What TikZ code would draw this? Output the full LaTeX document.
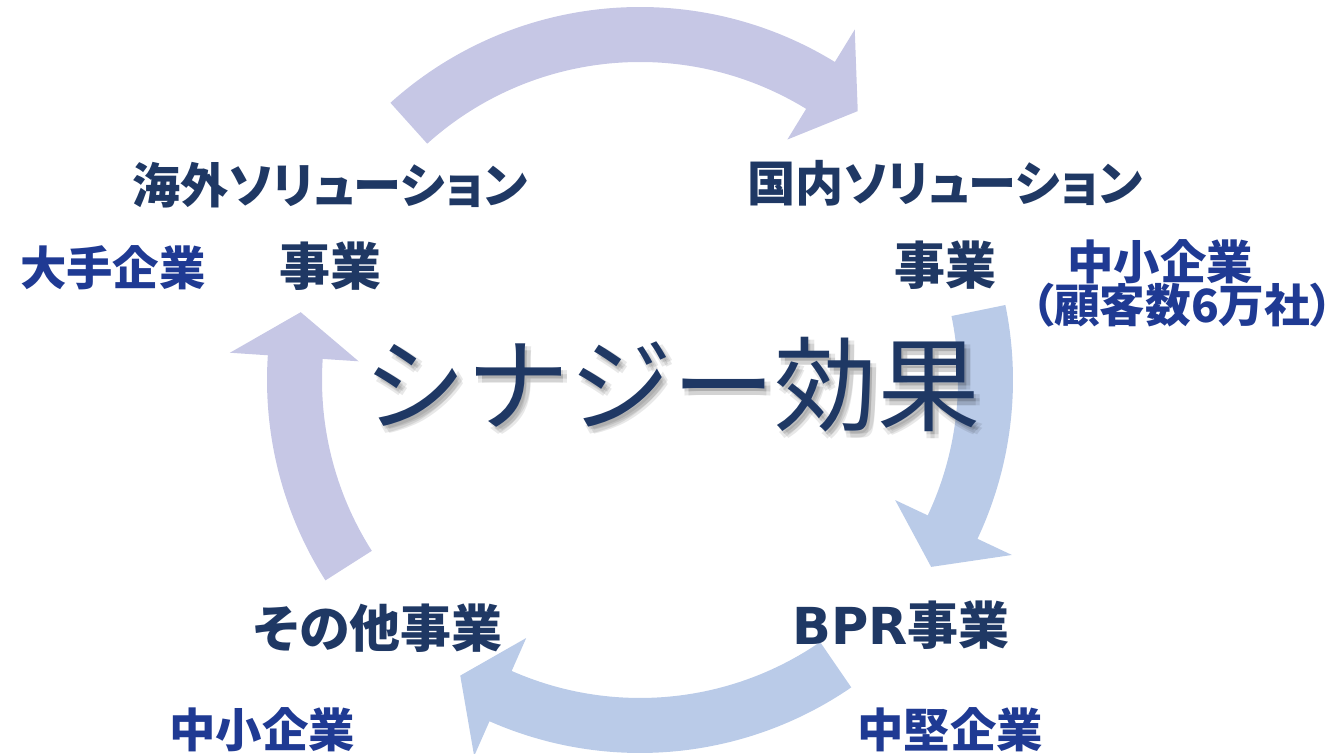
\documentclass[tikz,border=0pt]{standalone}
\usepackage{fontspec}
\newfontfamily\jpfont{Noto Sans CJK JP}
\newfontfamily\jppalt{Noto Sans CJK JP}[RawFeature=+palt]
\newfontfamily\latinwide{DejaVu Sans}
\definecolor{titlenavy}{HTML}{1F3864}
\definecolor{clientblue}{HTML}{1F3A93}
\definecolor{arrowlav}{HTML}{C6C7E5}
\definecolor{arrowsky}{HTML}{BACBE8}
\tikzset{
  bizlabel/.style={text=titlenavy, inner sep=0pt, font=\jppalt\bfseries\fontsize{14.5}{17}\selectfont},
  biztitle/.style={bizlabel, font=\jppalt\bfseries\fontsize{13.7}{16}\selectfont},
  clientlabel/.style={text=clientblue, inner sep=0pt, font=\jpfont\bfseries\fontsize{13.2}{16}\selectfont},
  synergytext/.style={inner sep=0pt, font=\jpfont\fontsize{29.3}{34}\selectfont},
}

\begin{document}
\begin{tikzpicture}
	\useasboundingbox (0,0) rectangle (13.42,7.54);
	% Центр круга стрелок
	\coordinate (C) at (6.40,3.74);
	
	% Изогнутые стрелки по кругу
	\begin{scope}[shift={(C)}]
		\fill[arrowlav] (132:3.73) arc[start angle=132, end angle=58.5, radius=3.73] -- (58.5:4.11) -- (51:3.46) -- (58.5:2.82) -- (58.5:3.18) arc[start angle=58.5, end angle=132, radius=3.18] -- cycle;
		\fill[arrowsky] (11.6:3.73) arc[start angle=11.6, end angle=-25.2, radius=3.73] -- (-25.2:4.11) -- (-32.7:3.46) -- (-25.2:2.82) -- (-25.2:3.18) arc[start angle=-25.2, end angle=11.6, radius=3.18] -- cycle;
		\fill[arrowsky] (-55.5:3.73) arc[start angle=-55.5, end angle=-113.8, radius=3.73] -- (-113.8:4.11) -- (-121.3:3.46) -- (-113.8:2.82) -- (-113.8:3.18) arc[start angle=-113.8, end angle=-55.5, radius=3.18] -- cycle;
		\fill[arrowlav] (212.5:3.73) arc[start angle=212.5, end angle=176.2, radius=3.73] -- (176.2:4.11) -- (168.7:3.46) -- (176.2:2.82) -- (176.2:3.18) arc[start angle=176.2, end angle=212.5, radius=3.18] -- cycle;
	\end{scope}
	
	% Тень и надпись в центре
	\foreach \dx in {0.02,0.06}
		\foreach \dy in {-0.03,-0.07}
			\node[synergytext, text=black, text opacity=0.09] at ([xshift=\dx cm, yshift=\dy cm]6.72,3.69) {シナジー効果};
	\node[synergytext, text=titlenavy] (synergy) at (6.72,3.69) {シナジー効果};
	
	% Подписи направлений
	\node[biztitle] (oversea) at (3.30,5.69) {海外ソリューション};
	\node[bizlabel] (overseabiz) at (3.30,4.88) {事業};
	\node[biztitle] (domestic) at (9.45,5.71) {国内ソリューション};
	\node[bizlabel] (domesticbiz) at (9.45,4.89) {事業};
	\node[bizlabel] (bpr) at (9.01,1.29) {{\latinwide BPR}事業};
	\node[bizlabel] (other) at (3.78,1.26) {その他事業};
	
	% Подписи клиентов
	\node[clientlabel] (largeco) at (1.13,4.86) {大手企業};
	\node[clientlabel] (smeright) at (11.60,4.92) {中小企業};
	\node[clientlabel, font=\jppalt\bfseries\fontsize{13}{16}\selectfont] (smecount) at (11.73,4.49) {（顧客数6万社）\kern-0.4em};
	\node[clientlabel] (midco) at (9.50,0.24) {中堅企業};
	\node[clientlabel] (smeleft) at (2.62,0.24) {中小企業};
\end{tikzpicture}
\end{document}
